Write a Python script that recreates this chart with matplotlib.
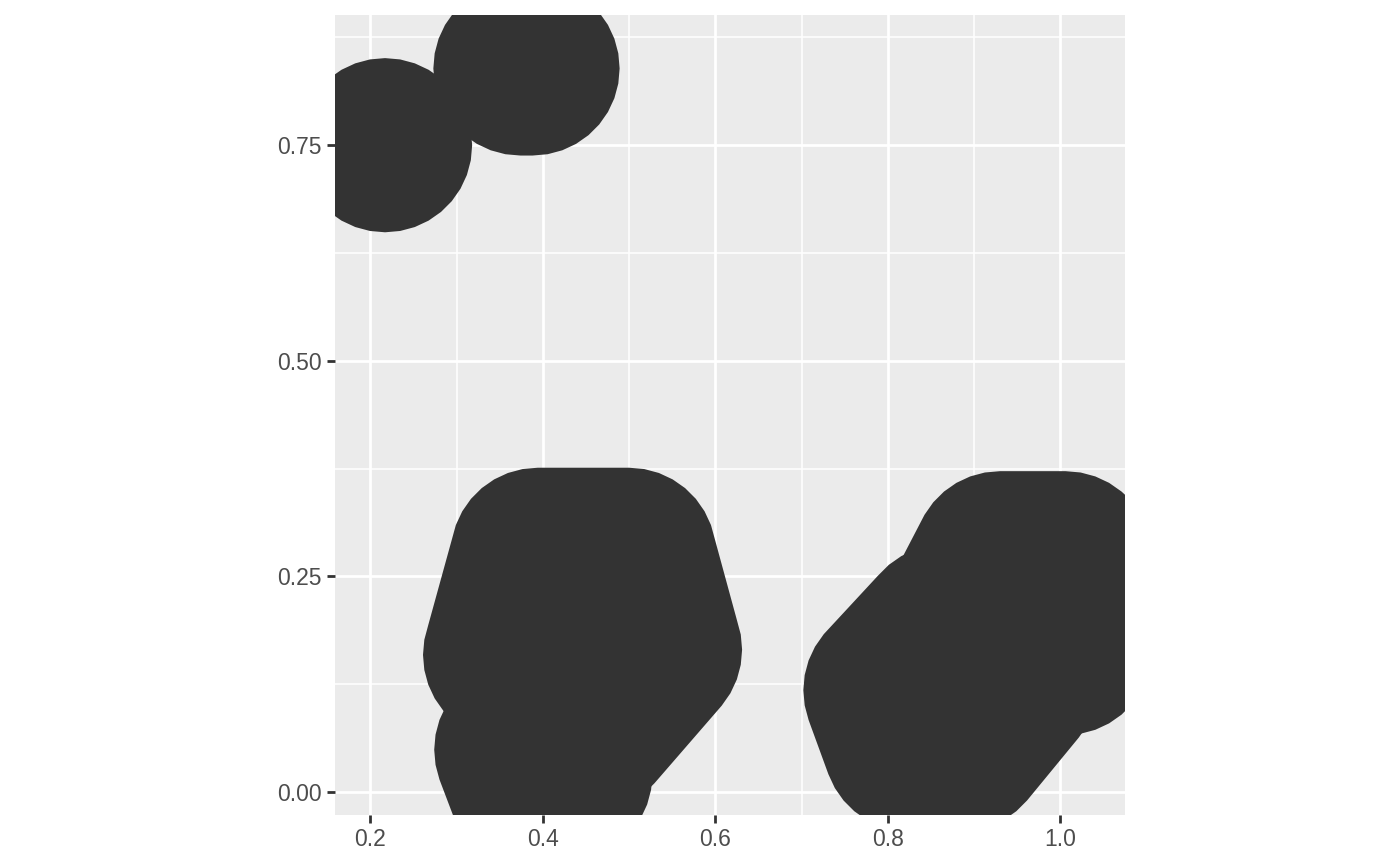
import numpy as np
import matplotlib
matplotlib.use('Agg')
import matplotlib.pyplot as plt

# 모양별 꼭짓점 (데이터 좌표)
shape_a = [(0.217, 0.750)]
shape_b = [(0.374, 0.839), (0.388, 0.839)]
shape_c1 = [(0.394, 0.275), (0.500, 0.275), (0.530, 0.165), (0.452, 0.075), (0.362, 0.159)]
shape_c2 = [(0.375, 0.049), (0.426, 0.020), (0.397, -0.009)]
shape_d1 = [(0.930, 0.271), (1.006, 0.271), (1.058, 0.223), (1.006, 0.167), (0.890, 0.194)]
shape_d2 = [(0.866, 0.186), (0.944, 0.128), (0.884, 0.055), (0.826, 0.055), (0.803, 0.118)]
shapes = [shape_a, shape_b, shape_c1, shape_c2, shape_d1, shape_d2]
radius = 0.101

x_ticks = [0.2, 0.4, 0.6, 0.8, 1.0]
x_labels = ['0.2', '0.4', '0.6', '0.8', '1.0']
y_ticks = [0.0, 0.25, 0.5, 0.75]
y_labels = ['0.00', '0.25', '0.50', '0.75']


def hull(pts):
    # monotone chain convex hull
    pts = sorted(map(tuple, pts))
    def cross(o, a, b):
        return (a[0] - o[0]) * (b[1] - o[1]) - (a[1] - o[1]) * (b[0] - o[0])
    lower, upper = [], []
    for p in pts:
        while len(lower) >= 2 and cross(lower[-2], lower[-1], p) <= 0:
            lower.pop()
        lower.append(p)
    for p in reversed(pts):
        while len(upper) >= 2 and cross(upper[-2], upper[-1], p) <= 0:
            upper.pop()
        upper.append(p)
    return np.array(lower[:-1] + upper[:-1])


def rounded(verts, r, n=36):
    t = np.linspace(0, 2 * np.pi, n, endpoint=False)
    pts = []
    for vx, vy in verts:
        pts += list(zip(vx + r * np.cos(t), vy + r * np.sin(t)))
    return hull(pts)


fig = plt.figure(figsize=(14, 8.66), dpi=100)
ax = fig.add_axes([0.2393, 0.0589, 0.5643, 0.9238])
ax.set_facecolor('#EBEBEB')

for s in shapes:
    h = rounded(s, radius)
    ax.fill(h[:, 0], h[:, 1], color='#333333', lw=0, zorder=3)

ax.set_xlim(0.159, 1.075)
ax.set_ylim(-0.0267, 0.901)
ax.set_xticks(x_ticks)
ax.set_xticklabels(x_labels)
ax.set_yticks(y_ticks)
ax.set_yticklabels(y_labels)
ax.set_xticks([0.3, 0.5, 0.7, 0.9], minor=True)
ax.set_yticks([0.125, 0.375, 0.625, 0.875], minor=True)
ax.grid(which='major', color='white', lw=2.0, zorder=1)
ax.grid(which='minor', color='white', lw=1.1, zorder=1)
ax.set_axisbelow(True)
ax.tick_params(which='major', length=5.5, width=2, color='#333333',
               labelcolor='#4D4D4D', labelsize=16.5, pad=4)
ax.tick_params(which='minor', length=0)
for lab in ax.get_xticklabels() + ax.get_yticklabels():
    lab.set_family('Liberation Sans')
for sp in ax.spines.values():
    sp.set_visible(False)

fig.savefig('out.png', dpi=100)
